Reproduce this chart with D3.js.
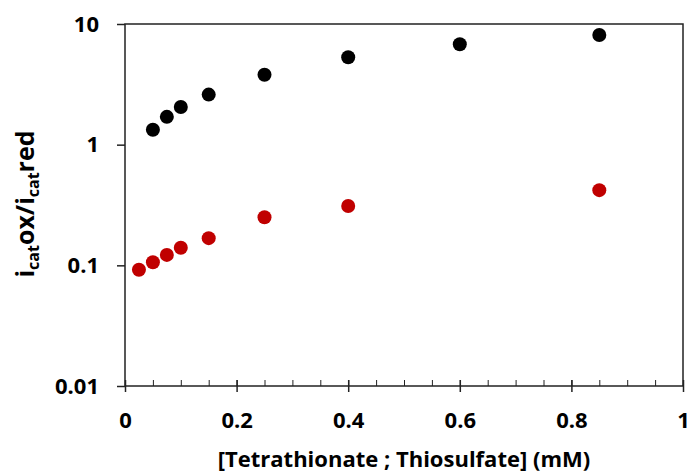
<!DOCTYPE html>
<html>
<head>
<meta charset="utf-8">
<script src="https://cdn.jsdelivr.net/npm/d3@7"></script>
<style>
  body { margin: 0; background: #fff; overflow: hidden; }
  svg { display: block; }
  text { font-family: "Open Sans", "DejaVu Sans", sans-serif; font-weight: bold; fill: #000; }
</style>
</head>
<body>
<svg id="chart"></svg>
<script>
// concentrations (mM) and ratio values
var blackX = [0.05, 0.075, 0.1, 0.15, 0.25, 0.4, 0.6, 0.85];
var blackY = [1.33, 1.7, 2.05, 2.6, 3.8, 5.3, 6.8, 8.1];
var redX   = [0.025, 0.05, 0.075, 0.1, 0.15, 0.25, 0.4, 0.85];
var redY   = [0.092, 0.106, 0.122, 0.14, 0.168, 0.25, 0.31, 0.42];

var xTicks = [0, 0.2, 0.4, 0.6, 0.8, 1];
var xMinor = d3.range(0, 1.0001, 0.05);
var yTicks = [0.01, 0.1, 1, 10];

var svgWidth = 689, svgHeight = 474;
var margin = { top: 24, right: 6, bottom: 88, left: 125 };
var innerWidth  = svgWidth  - margin.left - margin.right;
var innerHeight = svgHeight - margin.top  - margin.bottom;

var svg = d3.select('#chart')
    .attr('width', svgWidth)
    .attr('height', svgHeight);

var g = svg.append('g')
    .attr('transform', `translate(${margin.left},${margin.top})`);

var xScale = d3.scaleLinear().domain([0, 1]).range([0, innerWidth]);
var yScale = d3.scaleLog().domain([0.01, 10]).range([innerHeight, 0]);

// box border
g.append('rect')
    .attr('x', 0).attr('y', 0)
    .attr('width', innerWidth).attr('height', innerHeight)
    .attr('fill', 'none')
    .attr('stroke', '#222')
    .attr('stroke-width', 1.5);

// x axis: minor ticks inside, major ticks crossing
var xMinorAxis = d3.axisTop(xScale).tickValues(xMinor).tickSize(6).tickFormat('');
g.append('g').attr('class', 'x-minor')
    .attr('transform', `translate(0,${innerHeight})`)
    .call(xMinorAxis);

var xAxis = d3.axisBottom(xScale).tickValues(xTicks).tickSize(6)
    .tickFormat(function (d) { return d; });
var gx = g.append('g').attr('class', 'x-axis')
    .attr('transform', `translate(0,${innerHeight})`)
    .call(xAxis);
gx.selectAll('.tick line').attr('y1', -6);
gx.selectAll('.tick text').attr('y', 42).attr('dy', 0);

var yAxis = d3.axisLeft(yScale).tickValues(yTicks).tickSize(8)
    .tickFormat(function (d) { return d; }).tickPadding(18);
g.append('g').attr('class', 'y-axis').call(yAxis);

g.selectAll('.domain').remove();
g.selectAll('.tick line').attr('stroke', '#222').attr('stroke-width', 1.5);
g.selectAll('.x-minor .tick line').attr('stroke-width', 1);
g.selectAll('.tick text')
    .attr('font-size', 22)
    .attr('font-family', '"Open Sans", sans-serif')
    .attr('font-weight', 'bold')
    .attr('fill', '#000');

// points
g.selectAll('circle.black')
    .data(blackX.map(function (x, i) { return [x, blackY[i]]; }))
    .enter().append('circle')
    .attr('class', 'black')
    .attr('cx', function (d) { return xScale(d[0]); })
    .attr('cy', function (d) { return yScale(d[1]); })
    .attr('r', 7)
    .attr('fill', '#000');

g.selectAll('circle.red')
    .data(redX.map(function (x, i) { return [x, redY[i]]; }))
    .enter().append('circle')
    .attr('class', 'red')
    .attr('cx', function (d) { return xScale(d[0]); })
    .attr('cy', function (d) { return yScale(d[1]); })
    .attr('r', 7)
    .attr('fill', '#c00000');

// axis titles
svg.append('text')
    .attr('x', margin.left + innerWidth / 2)
    .attr('y', 467)
    .attr('text-anchor', 'middle')
    .attr('font-size', 22)
    .text('[Tetrathionate ; Thiosulfate] (mM)');

var yl = svg.append('text')
    .attr('transform', `translate(34,${margin.top + innerHeight / 2 - 1}) rotate(-90)`)
    .attr('text-anchor', 'middle')
    .attr('font-family', '"Liberation Sans", Arial, sans-serif')
    .attr('font-size', 25);
yl.append('tspan').text('i');
yl.append('tspan').attr('font-size', 16).attr('dy', 5).text('cat');
yl.append('tspan').attr('dy', -5).text('ox/i');
yl.append('tspan').attr('font-size', 16).attr('dy', 5).text('cat');
yl.append('tspan').attr('dy', -5).text('red');
</script>
</body>
</html>
